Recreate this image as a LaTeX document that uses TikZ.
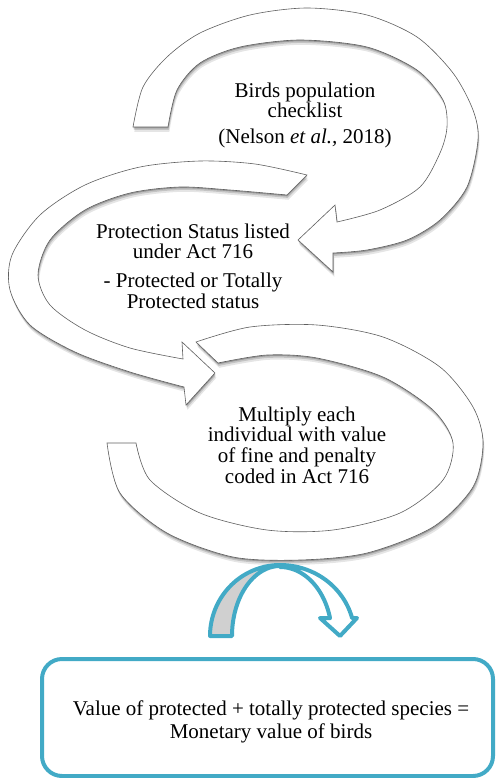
\documentclass[tikz,border=0pt]{standalone}
\usepackage{fontspec}
\setmainfont{Liberation Serif}
\definecolor{smartblue}{RGB}{66,170,198}
\definecolor{rimgray}{RGB}{95,95,95}
\definecolor{undergray}{RGB}{208,208,208}
\tikzset{
  band/.style={draw=rimgray, line width=0.45pt, fill=white, line join=miter,
    preaction={fill=black, opacity=0.10, transform canvas={xshift=1pt, yshift=-3.6pt}},
    preaction={fill=black, opacity=0.15, transform canvas={xshift=0.6pt, yshift=-2.2pt}},
    preaction={fill=black, opacity=0.22, transform canvas={xshift=0.3pt, yshift=-1pt}}},
  bluestroke/.style={draw=smartblue, line width=3pt, line join=round},
  txt/.style={align=center, inner sep=0pt, font=\fontsize{15.75}{15.4}\selectfont}
}
\begin{document}
\begin{tikzpicture}[x=0.75pt,y=0.75pt,yscale=-1,xscale=1]
\useasboundingbox (0,0) rectangle (496,778);

%Shape: Circular Arrow [checklist]
\draw [band] plot[smooth] coordinates {(133,127) (143,87) (167,57) (200,33) (250,15) (307,8) (367,15) (417,37) (453,73) (473,110) (478,140) (467,187) (440,220) (407,240) (367,250) (333,253)}
  -- (333,272) -- (298,240) -- (335,205) -- (337,222)
  -- plot[smooth] coordinates {(337,222) (380,210) (420,187) (440,153) (447,127) (443,100) (417,70) (367,47) (300,40) (240,47) (200,63) (177,90) (168,127)} -- cycle ;
%Shape: Circular Arrow [status]
\draw [band] plot[smooth] coordinates {(307,175) (255,164) (200,161) (140,167) (85,185) (40,215) (12,255) (10,290) (30,325) (75,352) (130,372) (184,387)}
  -- (186,405) -- (215,373) -- (182,342) -- (183,359)
  -- plot[smooth] coordinates {(183,359) (130,348) (85,330) (50,305) (38,275) (50,240) (85,210) (130,193) (180,187) (230,190) (287,195)} -- cycle ;
%Shape: Circular Arrow [multiply]
\draw [band] plot[smooth] coordinates {(196,342) (250,327) (317,325) (383,337) (440,367) (473,407) (483,443) (473,487) (433,527) (367,553) (300,560) (233,557) (167,533) (120,493) (107,443)}
  -- (136,443)
  -- plot[smooth] coordinates {(136,443) (150,480) (200,513) (267,530) (333,530) (400,513) (443,480) (453,443) (433,410) (383,377) (317,358) (267,355) (218,363)} -- cycle ;

%Shape: Curved Arrow, under side
\draw [bluestroke, fill=undergray] plot[domain=180:270, samples=40] ({280+70*cos(\x)},{636+71*sin(\x)})
  -- plot[domain=270:180, samples=40] ({280+48*cos(\x)},{636+70*sin(\x)}) -- cycle ;
%Shape: Curved Arrow, head side
\draw [bluestroke, fill=white] plot[domain=270:345.3, samples=40] ({280+74.5*cos(\x)},{636+71*sin(\x)})
  -- (357,618) -- (340,636) -- (320,618)
  -- plot[domain=345:270, samples=40] ({280+51.8*cos(\x)},{636+69*sin(\x)}) -- cycle ;

%Shape: Rounded Rect [id:monetarybox]
\draw [bluestroke, rounded corners=15pt] (42,659) rectangle (493,776) ;

% Text Node
\node [txt, anchor=base] (checklist) at (305,143) {Birds population\\checklist\\[3.5pt](Nelson \textit{et al.,} 2018)};
% Text Node
\node [txt, anchor=base] (status) at (193,308) {Protection Status listed\\under Act 716\\[6pt]- Protected or Totally\\Protected status};
% Text Node
\node [txt, anchor=base] (multiply) at (297,483) {Multiply each\\individual with value\\of fine and penalty\\coded in Act 716};
% Text Node
\node [txt, anchor=base] (monetary) at (271,738) {Value of protected + totally protected species =\\[1.8pt]Monetary value of birds};

\end{tikzpicture}
\end{document}
